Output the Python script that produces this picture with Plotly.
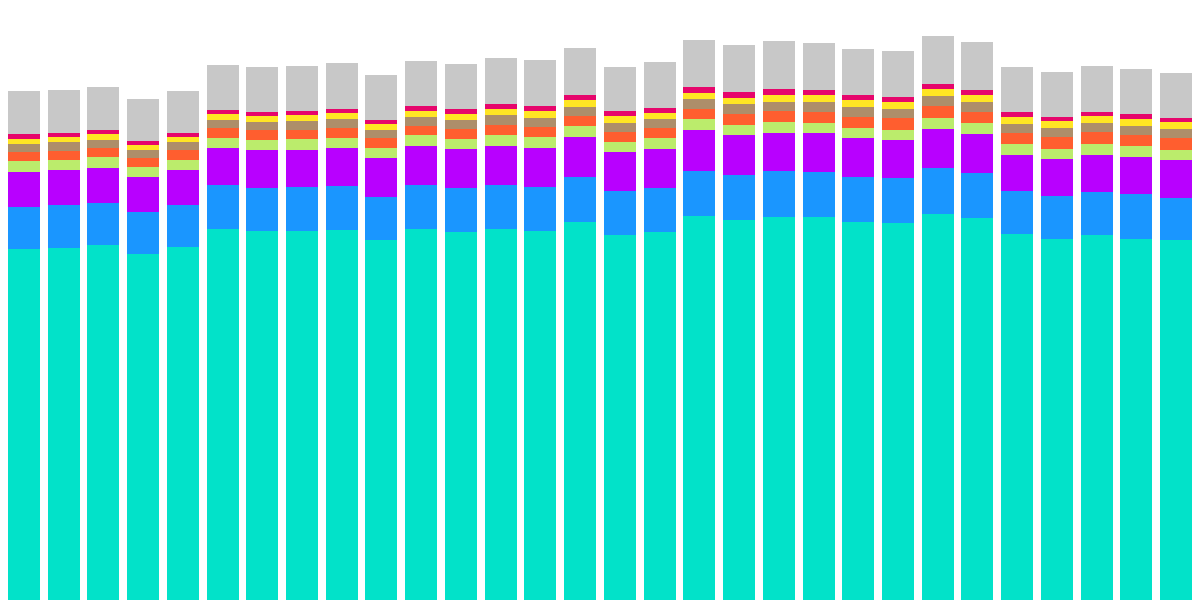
import plotly.graph_objects as go

categories = [str(i) for i in range(1, 31)]

teal   = [351,352,355,346,353,371,369,369,370,360,371,368,371,369,378,365,368,384,380,383,383,378,377,386,382,366,361,365,361,360]
blue   = [42,43,42,42,42,44,43,44,44,43,44,44,44,44,45,44,44,45,45,46,45,45,45,46,45,43,43,43,45,42]
purple = [35,35,35,35,35,37,38,37,38,39,39,39,39,39,40,39,39,41,40,38,39,39,38,39,39,36,37,37,37,38]
green  = [11,10,11,10,10,10,10,11,10,10,11,10,11,11,11,10,11,11,10,11,10,10,10,11,11,11,10,11,11,10]
orange = [9.3,9,9,9,10,10,10,9,10,10,9,10,10,10,10,10,10,10,11,11,11,11,12,12,11,11,12,12,11,12]
brown  = [7.7,9,8,8,8,8,8,9,9,8,9,9,10,9,9,9,9,10,10,9,10,10,9,10,10,9,9,9,9,9]
yellow = [5,5,6,5,5,6,6,6,6,6,6,6,6,7,7,7,6,6,6,7,7,7,7,7,7,7,7,7,7,7]
pink   = [5,4,4,4,4,4,4,4,4,4,5,5,5,5,5,5,5,6,6,6,5,5,5,5,5,5,4,4,5,4]
gray   = [43,43,43,42,42,45,45,45,46,45,45,45,46,46,47,44,46,47,47,48,47,46,46,48,48,45,45,46,45,45]

series = [
    ("A", teal,   "#02E2C9"),
    ("B", blue,   "#1A96FF"),
    ("C", purple, "#B800FF"),
    ("D", green,  "#BBEC6C"),
    ("E", orange, "#FF5E2F"),
    ("F", brown,  "#AD8E6A"),
    ("G", yellow, "#FFE524"),
    ("H", pink,   "#E6066C"),
    ("I", gray,   "#C8C8C8"),
]

fig = go.Figure()
for name, vals, col in series:
    fig.add_trace(go.Bar(x=categories, y=vals, name=name, marker_color=col,
                         marker_line_width=0))

fig.update_layout(
    barmode="stack",
    bargap=0.195,
    width=1200, height=600,
    margin=dict(l=4, r=4, t=0, b=0),
    showlegend=False,
    paper_bgcolor="white",
    plot_bgcolor="white",
    xaxis=dict(visible=False),
    yaxis=dict(visible=False, range=[0, 600]),
)

fig.write_html("out.html")
